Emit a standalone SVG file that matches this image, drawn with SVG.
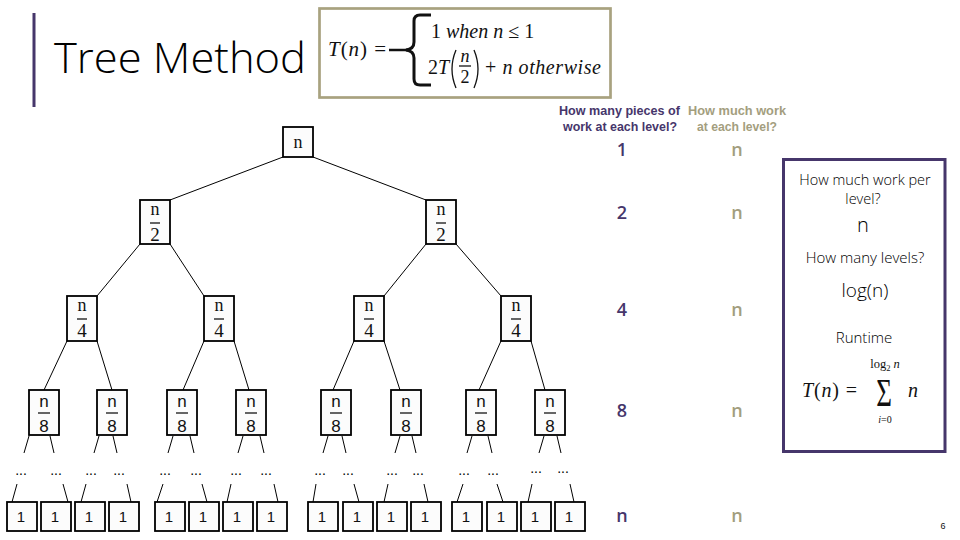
<svg xmlns="http://www.w3.org/2000/svg" width="960" height="540" viewBox="0 0 960 540">
<style>
.box{fill:#fcfcfc;stroke:#000;stroke-width:1.8}
.ser{font-family:"Liberation Serif","Times New Roman",serif;fill:#111}
.san{font-family:"Liberation Sans",Arial,sans-serif;fill:#111}
.lt{font-family:"Open Sans","Noto Sans","Liberation Sans",sans-serif;font-weight:300;fill:#000}
.hd{font-family:"Liberation Sans",Arial,sans-serif;font-weight:bold;font-size:13px}
.pu{fill:#46366b}
.kh{fill:#a39e7e}
.val{font-family:"Open Sans","Noto Sans","Liberation Sans",sans-serif;font-size:18px;font-weight:600;text-anchor:middle}
.c line{stroke:#000;stroke-width:1}
.bar{stroke:#000;stroke-width:1.2}
.dots{font-family:"Liberation Sans",Arial,sans-serif;font-size:14px;text-anchor:middle;fill:#000}
.m{font-family:"Liberation Serif","Times New Roman",serif;fill:#111}
.i{font-style:italic}
</style>
<rect width="960" height="540" fill="#fff"/>
<g id="title">
<rect x="32.5" y="13" width="3" height="94" fill="#46366b"/>
<text x="54" y="73" class="lt" font-size="42" textLength="252" lengthAdjust="spacingAndGlyphs">Tree Method</text>
</g>
<g id="recurrence">
<rect x="319.5" y="8.5" width="291" height="89" fill="#fff" stroke="#a8a27f" stroke-width="2.7"/>
<text x="328" y="56" class="m" font-size="21" textLength="58" lengthAdjust="spacing"><tspan class="i">T</tspan>(<tspan class="i">n</tspan>) =</text>
<path d="M389,50 L407,50" stroke="#111" stroke-width="2.5" fill="none"/>
<path d="M431,15 L420,15 Q414,15 414,21 L414,42 Q414,49 406,50 Q414,51 414,58 L414,79 Q414,85 420,85 L431,85" stroke="#111" stroke-width="3" fill="none"/>
<text x="431" y="38" class="m" font-size="20">1 <tspan class="i">when n</tspan> ≤ 1</text>
<text x="428" y="74" class="m" font-size="20">2<tspan class="i">T</tspan></text>
<path d="M456,50 Q448,69 456,88 M474,50 Q482,69 474,88" stroke="#111" stroke-width="1.3" fill="none"/>
<text x="465" y="62" class="m i" font-size="18" text-anchor="middle">n</text>
<line x1="459" y1="66" x2="471" y2="66" class="bar"/>
<text x="465" y="83" class="m" font-size="18" text-anchor="middle">2</text>
<text x="485" y="74" class="m" font-size="20" textLength="116" lengthAdjust="spacing">+ <tspan class="i">n otherwise</tspan></text>
</g>
<g id="headers">
<text x="559" y="115" class="hd pu" textLength="121" lengthAdjust="spacingAndGlyphs">How many pieces of</text>
<text x="563" y="131" class="hd pu" textLength="114" lengthAdjust="spacingAndGlyphs">work at each level?</text>
<text x="688" y="115" class="hd kh" textLength="98" lengthAdjust="spacingAndGlyphs">How much work</text>
<text x="697" y="131" class="hd kh" textLength="80" lengthAdjust="spacingAndGlyphs">at each level?</text>
</g>
<g id="pieces-column">
<text x="622" y="156" class="val pu">1</text>
<text x="622" y="219" class="val pu">2</text>
<text x="622" y="316" class="val pu">4</text>
<text x="622" y="417" class="val pu">8</text>
<text x="622" y="522" class="val pu">n</text>
</g>
<g id="work-column">
<text x="737" y="156" class="val kh">n</text>
<text x="737" y="219" class="val kh">n</text>
<text x="737" y="316" class="val kh">n</text>
<text x="737" y="417" class="val kh">n</text>
<text x="737" y="522" class="val kh">n</text>
</g>
<g id="summary">
<rect x="783.5" y="159.5" width="161.5" height="292" fill="#fff" stroke="#46366b" stroke-width="3"/>
<text x="865" y="185" class="lt" font-size="14.5" text-anchor="middle">How much work per</text>
<text x="863" y="204" class="lt" font-size="14.5" text-anchor="middle">level?</text>
<text x="863" y="232" class="lt" font-size="20" text-anchor="middle">n</text>
<text x="865" y="263" class="lt" font-size="15" text-anchor="middle">How many levels?</text>
<text x="865" y="297" class="lt" font-size="19" text-anchor="middle">log(n)</text>
<text x="864" y="343" class="lt" font-size="15" text-anchor="middle">Runtime</text>
<text x="802" y="397" class="m" font-size="20" textLength="55" lengthAdjust="spacing"><tspan class="i">T</tspan>(<tspan class="i">n</tspan>) =</text>
<text x="885" y="368" class="m" font-size="12.5" text-anchor="middle">log<tspan font-size="8.5" dy="3">2</tspan><tspan dy="-3" class="i"> n</tspan></text>
<text transform="translate(884,406) scale(0.9,1.3)" class="m" font-size="30" text-anchor="middle">Σ</text>
<text x="885" y="423" class="m" font-size="10" text-anchor="middle"><tspan class="i">i</tspan>=0</text>
<text x="908" y="397" class="m i" font-size="20">n</text>
</g>
<g id="connectors" class="c">
<line x1="283" y1="157" x2="170" y2="200"/>
<line x1="313" y1="157" x2="426" y2="200"/>
<line x1="140" y1="244" x2="97" y2="296"/>
<line x1="170" y1="244" x2="204" y2="296"/>
<line x1="426" y1="244" x2="384" y2="296"/>
<line x1="456" y1="244" x2="501" y2="296"/>
<line x1="67" y1="341" x2="44" y2="390"/>
<line x1="97" y1="341" x2="112" y2="390"/>
<line x1="204" y1="341" x2="183" y2="390"/>
<line x1="234" y1="341" x2="249" y2="390"/>
<line x1="354" y1="341" x2="333" y2="390"/>
<line x1="384" y1="341" x2="400" y2="390"/>
<line x1="501" y1="341" x2="479" y2="390"/>
<line x1="531" y1="341" x2="545" y2="390"/>
<line x1="29" y1="436" x2="24" y2="453"/>
<line x1="50" y1="436" x2="54" y2="453"/>
<line x1="99" y1="436" x2="94" y2="453"/>
<line x1="113" y1="436" x2="117" y2="453"/>
<line x1="173" y1="436" x2="168" y2="453"/>
<line x1="190" y1="436" x2="194" y2="453"/>
<line x1="243" y1="436" x2="238" y2="453"/>
<line x1="260" y1="436" x2="264" y2="453"/>
<line x1="328" y1="436" x2="323" y2="453"/>
<line x1="342" y1="436" x2="346" y2="453"/>
<line x1="400" y1="436" x2="395" y2="453"/>
<line x1="412" y1="436" x2="416" y2="453"/>
<line x1="472" y1="436" x2="467" y2="453"/>
<line x1="488" y1="436" x2="492" y2="453"/>
<line x1="544" y1="436" x2="539" y2="453"/>
<line x1="557" y1="436" x2="561" y2="453"/>
<line x1="17" y1="484" x2="12" y2="502"/>
<line x1="63" y1="484" x2="68" y2="502"/>
<line x1="86" y1="484" x2="81" y2="502"/>
<line x1="127" y1="484" x2="131" y2="502"/>
<line x1="163" y1="484" x2="157" y2="502"/>
<line x1="202" y1="484" x2="207" y2="502"/>
<line x1="231" y1="484" x2="227" y2="502"/>
<line x1="274" y1="484" x2="278" y2="502"/>
<line x1="316" y1="484" x2="313" y2="502"/>
<line x1="354" y1="484" x2="359" y2="502"/>
<line x1="388" y1="484" x2="384" y2="502"/>
<line x1="424" y1="484" x2="428" y2="502"/>
<line x1="463" y1="484" x2="457" y2="502"/>
<line x1="497" y1="484" x2="503" y2="502"/>
<line x1="532" y1="484" x2="528" y2="502"/>
<line x1="570" y1="484" x2="574" y2="502"/>
</g>
<g id="root"><rect class="box" x="283" y="127" width="30" height="30"/><text x="298" y="148" class="ser" font-size="18" text-anchor="middle">n</text></g>
<g id="n2-left"><rect class="box" x="140" y="200" width="30" height="44"/><text x="155" y="215" class="ser" font-size="18" text-anchor="middle">n</text><line class="bar" x1="150" y1="223" x2="160" y2="223"/><text x="155" y="241" class="ser" font-size="19" text-anchor="middle">2</text></g>
<g id="n2-right"><rect class="box" x="426" y="200" width="30" height="44"/><text x="441" y="215" class="ser" font-size="18" text-anchor="middle">n</text><line class="bar" x1="436" y1="223" x2="446" y2="223"/><text x="441" y="241" class="ser" font-size="19" text-anchor="middle">2</text></g>
<g id="n4-1"><rect class="box" x="67" y="296" width="30" height="45"/><text x="82" y="311" class="ser" font-size="18" text-anchor="middle">n</text><line class="bar" x1="77" y1="319" x2="87" y2="319"/><text x="82" y="337" class="ser" font-size="19" text-anchor="middle">4</text></g>
<g id="n4-2"><rect class="box" x="204" y="296" width="30" height="45"/><text x="219" y="311" class="ser" font-size="18" text-anchor="middle">n</text><line class="bar" x1="214" y1="319" x2="224" y2="319"/><text x="219" y="337" class="ser" font-size="19" text-anchor="middle">4</text></g>
<g id="n4-3"><rect class="box" x="354" y="296" width="30" height="45"/><text x="369" y="311" class="ser" font-size="18" text-anchor="middle">n</text><line class="bar" x1="364" y1="319" x2="374" y2="319"/><text x="369" y="337" class="ser" font-size="19" text-anchor="middle">4</text></g>
<g id="n4-4"><rect class="box" x="501" y="296" width="30" height="45"/><text x="516" y="311" class="ser" font-size="18" text-anchor="middle">n</text><line class="bar" x1="511" y1="319" x2="521" y2="319"/><text x="516" y="337" class="ser" font-size="19" text-anchor="middle">4</text></g>
<g id="n8-1"><rect class="box" x="29" y="390" width="30" height="45"/><text x="44" y="407" class="san" font-size="17" text-anchor="middle">n</text><line class="bar" x1="38" y1="413" x2="50" y2="413"/><text x="44" y="432" class="san" font-size="17" text-anchor="middle">8</text></g>
<g id="n8-2"><rect class="box" x="97" y="390" width="30" height="45"/><text x="112" y="407" class="san" font-size="17" text-anchor="middle">n</text><line class="bar" x1="106" y1="413" x2="118" y2="413"/><text x="112" y="432" class="san" font-size="17" text-anchor="middle">8</text></g>
<g id="n8-3"><rect class="box" x="167" y="390" width="30" height="45"/><text x="182" y="407" class="san" font-size="17" text-anchor="middle">n</text><line class="bar" x1="176" y1="413" x2="188" y2="413"/><text x="182" y="432" class="san" font-size="17" text-anchor="middle">8</text></g>
<g id="n8-4"><rect class="box" x="236" y="390" width="30" height="45"/><text x="251" y="407" class="san" font-size="17" text-anchor="middle">n</text><line class="bar" x1="245" y1="413" x2="257" y2="413"/><text x="251" y="432" class="san" font-size="17" text-anchor="middle">8</text></g>
<g id="n8-5"><rect class="box" x="321" y="390" width="30" height="45"/><text x="336" y="407" class="san" font-size="17" text-anchor="middle">n</text><line class="bar" x1="330" y1="413" x2="342" y2="413"/><text x="336" y="432" class="san" font-size="17" text-anchor="middle">8</text></g>
<g id="n8-6"><rect class="box" x="391" y="390" width="30" height="45"/><text x="406" y="407" class="san" font-size="17" text-anchor="middle">n</text><line class="bar" x1="400" y1="413" x2="412" y2="413"/><text x="406" y="432" class="san" font-size="17" text-anchor="middle">8</text></g>
<g id="n8-7"><rect class="box" x="466" y="390" width="30" height="45"/><text x="481" y="407" class="san" font-size="17" text-anchor="middle">n</text><line class="bar" x1="475" y1="413" x2="487" y2="413"/><text x="481" y="432" class="san" font-size="17" text-anchor="middle">8</text></g>
<g id="n8-8"><rect class="box" x="535" y="390" width="30" height="45"/><text x="550" y="407" class="san" font-size="17" text-anchor="middle">n</text><line class="bar" x1="544" y1="413" x2="556" y2="413"/><text x="550" y="432" class="san" font-size="17" text-anchor="middle">8</text></g>
<g id="ellipses">
<text x="21" y="475" class="dots">...</text><text x="56" y="475" class="dots">...</text>
<text x="91" y="475" class="dots">...</text><text x="119" y="475" class="dots">...</text>
<text x="165" y="475" class="dots">...</text><text x="196" y="475" class="dots">...</text>
<text x="236" y="475" class="dots">...</text><text x="266" y="475" class="dots">...</text>
<text x="320" y="475" class="dots">...</text><text x="348" y="475" class="dots">...</text>
<text x="392" y="475" class="dots">...</text><text x="418" y="475" class="dots">...</text>
<text x="464" y="475" class="dots">...</text><text x="493" y="475" class="dots">...</text>
<text x="536" y="473" class="dots">...</text><text x="563" y="473" class="dots">...</text>
</g>
<g id="leaf-1"><rect class="box" x="7" y="502" width="30" height="29"/><text x="21" y="522" class="san" font-size="15" text-anchor="middle">1</text></g>
<g id="leaf-2"><rect class="box" x="41" y="502" width="30" height="29"/><text x="55" y="522" class="san" font-size="15" text-anchor="middle">1</text></g>
<g id="leaf-3"><rect class="box" x="75" y="502" width="30" height="29"/><text x="89" y="522" class="san" font-size="15" text-anchor="middle">1</text></g>
<g id="leaf-4"><rect class="box" x="109" y="502" width="30" height="29"/><text x="123" y="522" class="san" font-size="15" text-anchor="middle">1</text></g>
<g id="leaf-5"><rect class="box" x="155" y="502" width="30" height="29"/><text x="169" y="522" class="san" font-size="15" text-anchor="middle">1</text></g>
<g id="leaf-6"><rect class="box" x="189" y="502" width="30" height="29"/><text x="203" y="522" class="san" font-size="15" text-anchor="middle">1</text></g>
<g id="leaf-7"><rect class="box" x="223" y="502" width="30" height="29"/><text x="237" y="522" class="san" font-size="15" text-anchor="middle">1</text></g>
<g id="leaf-8"><rect class="box" x="257" y="502" width="30" height="29"/><text x="271" y="522" class="san" font-size="15" text-anchor="middle">1</text></g>
<g id="leaf-9"><rect class="box" x="308" y="502" width="30" height="29"/><text x="322" y="522" class="san" font-size="15" text-anchor="middle">1</text></g>
<g id="leaf-10"><rect class="box" x="343" y="502" width="30" height="29"/><text x="357" y="522" class="san" font-size="15" text-anchor="middle">1</text></g>
<g id="leaf-11"><rect class="box" x="377" y="502" width="30" height="29"/><text x="391" y="522" class="san" font-size="15" text-anchor="middle">1</text></g>
<g id="leaf-12"><rect class="box" x="411" y="502" width="30" height="29"/><text x="425" y="522" class="san" font-size="15" text-anchor="middle">1</text></g>
<g id="leaf-13"><rect class="box" x="452" y="502" width="30" height="29"/><text x="466" y="522" class="san" font-size="15" text-anchor="middle">1</text></g>
<g id="leaf-14"><rect class="box" x="487" y="502" width="30" height="29"/><text x="501" y="522" class="san" font-size="15" text-anchor="middle">1</text></g>
<g id="leaf-15"><rect class="box" x="521" y="502" width="30" height="29"/><text x="535" y="522" class="san" font-size="15" text-anchor="middle">1</text></g>
<g id="leaf-16"><rect class="box" x="555" y="502" width="30" height="29"/><text x="569" y="522" class="san" font-size="15" text-anchor="middle">1</text></g>
<text x="943" y="529" class="san" font-size="9" text-anchor="middle">6</text>
</svg>
